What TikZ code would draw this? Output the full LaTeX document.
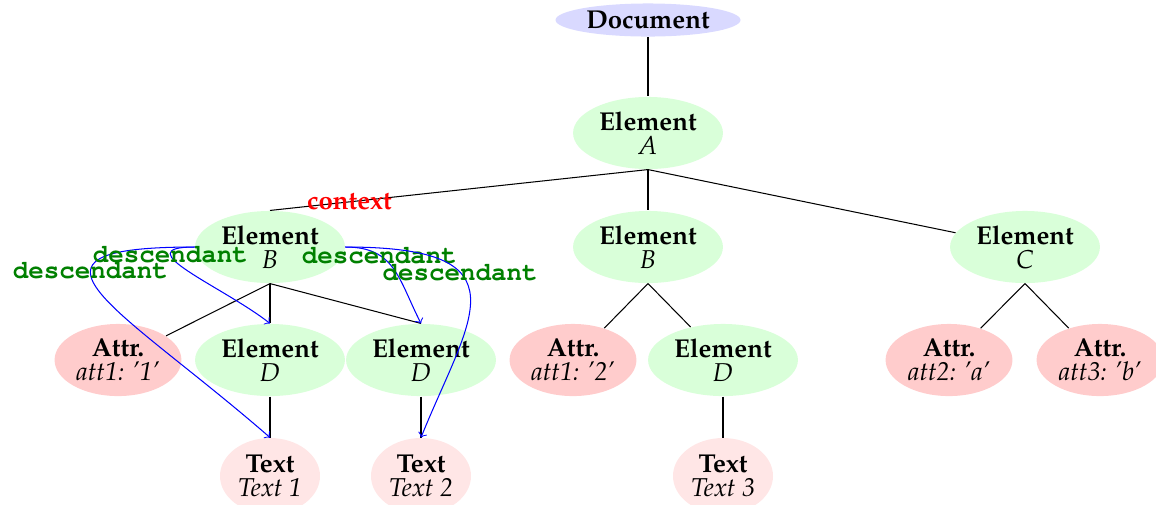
\documentclass[tikz,border=0pt]{standalone}
\usepackage[T1]{fontenc}
\usepackage{mathpazo}
\usetikzlibrary{shapes.geometric}
\definecolor{figDoc}{RGB}{217,217,255}
\definecolor{figElem}{RGB}{217,255,217}
\definecolor{figAttr}{RGB}{255,204,204}
\definecolor{figTexto}{RGB}{255,230,230}
\definecolor{figDesc}{RGB}{0,128,0}
\newcommand{\dato}[2]{\textbf{#1}\\[-2.7pt]\textit{#2}}
\tikzset{
  documento/.style={
    ellipse, fill=figDoc, inner sep=0pt,
    minimum width=71.6pt, minimum height=12.8pt, font=\bfseries
  },
  elemento/.style={
    ellipse, fill=figElem, inner sep=0pt,
    minimum width=58pt, minimum height=27.9pt, align=center
  },
  atributo/.style={
    ellipse, fill=figAttr, inner sep=0pt,
    minimum width=49.1pt, minimum height=27.9pt, align=center
  },
  texto/.style={
    ellipse, fill=figTexto, inner sep=0pt,
    minimum width=38.7pt, minimum height=29.4pt, align=center
  },
  arista/.style={draw=black, line width=0.4pt},
  flechad/.style={->, draw=blue, line width=0.4pt},
  etiqd/.style={font=\fontfamily{pcr}\selectfont\bfseries, text=figDesc, inner sep=0pt},
  etiqc/.style={font=\bfseries, text=red, inner sep=0pt}
}
\begin{document}
\begin{tikzpicture}[x=0.387pt, y=0.387pt]
  \useasboundingbox (0,0) rectangle (1156,-504);

  % Raiz y elemento A
  \node[documento] (doc) at (648,-20) {Document};
  \node[elemento] (eA) at (648,-133) {\dato{Element}{A}};

  % Hijos de A
  \node[elemento] (eB1) at (270,-247) {\dato{Element}{B}};
  \node[elemento] (eB2) at (648,-247) {\dato{Element}{B}};
  \node[elemento] (eC) at (1025,-247) {\dato{Element}{C}};

  % Nivel de atributos y elementos D
  \node[atributo] (at1) at (118,-360) {\dato{Attr.}{att1: '1'}};
  \node[elemento] (eD1) at (270,-360) {\dato{Element}{D}};
  \node[elemento] (eD2) at (421,-360) {\dato{Element}{D}};
  \node[atributo] (at4) at (573,-360) {\dato{Attr.}{att1: '2'}};
  \node[elemento] (eD3) at (723,-360) {\dato{Element}{D}};
  \node[atributo] (at2) at (949,-360) {\dato{Attr.}{att2: 'a'}};
  \node[atributo] (at3) at (1100,-360) {\dato{Attr.}{att3: 'b'}};

  % Nodos de texto
  \node[texto] (t1) at (270,-476) {\dato{Text}{Text 1}};
  \node[texto] (t2) at (421,-476) {\dato{Text}{Text 2}};
  \node[texto] (t3) at (723,-476) {\dato{Text}{Text 3}};

  % Aristas del arbol
  \draw[arista] (doc) -- (eA);
  \draw[arista] (eA.south) -- (eB1.north) node[pos=0.79, etiqc] {context};
  \draw[arista] (eA.south) -- (eB2.north);
  \draw[arista] (eA.south) -- (eC);
  \draw[arista] (eB1.south) -- (at1);
  \draw[arista] (eB1.south) -- (eD1.north);
  \draw[arista] (eB1.south) -- (eD2.north);
  \draw[arista] (eB2.south) -- (at4);
  \draw[arista] (eB2.south) -- (eD3);
  \draw[arista] (eC.south) -- (at2);
  \draw[arista] (eC.south) -- (at3);
  \draw[arista] (eD1) -- (t1);
  \draw[arista] (eD2) -- (t2);
  \draw[arista] (eD3) -- (t3);

  % Eje descendant desde el nodo contexto
  \draw[flechad] (eB1.west) to[out=180, in=139, out looseness=2.5, in looseness=2.5]
        node[pos=0.36, etiqd] {descendant} (t1.north);
  \draw[flechad] (eB1.west) to[out=180, in=142, out looseness=1.66, in looseness=1.43]
        node[pos=0.27, etiqd] {descendant} (eD1.north);
  \draw[flechad] (eB1.east) to[out=0, in=117, looseness=1.18]
        node[pos=0.3, etiqd] {descendant} (eD2.north);
  \draw[flechad] (eB1.east) to[out=0, in=68, out looseness=2.3, in looseness=1.6]
        node[pos=0.35, etiqd] {descendant} (t2.north);
\end{tikzpicture}
\end{document}
